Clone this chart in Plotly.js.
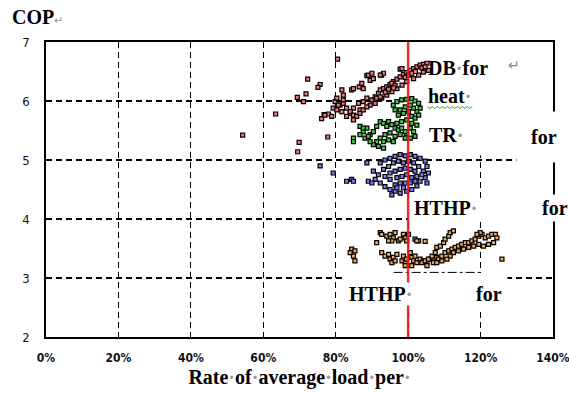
<!DOCTYPE html>
<html><head><meta charset="utf-8">
<script src="https://cdn.plot.ly/plotly-3.0.1.min.js"></script>
<style>html,body{margin:0;padding:0;background:#fff}</style>
</head><body><div id="chart" style="width:569px;height:403px"></div>
<script>
// ---- data (x = rate of average load per rated, y = COP) ----
const redX = [0.805,0.7225,0.757,0.751,0.718,0.694,0.711,0.634,0.543,0.699,0.695,0.778,0.761,0.768,0.780,0.798,0.803,0.817,0.821,0.793,0.803,0.812,0.821,0.817,0.789,0.770,0.844,0.849,0.865,0.876,0.872,0.886,0.895,0.904,0.927,0.932,0.978,0.983,0.863,0.876,0.886,0.900,0.909,0.918,0.923,0.932,0.941,0.950,0.959,0.969,0.978,0.987,0.996,1.006,1.015,1.024,1.033,1.042,1.052,0.849,0.867,0.840,0.853,0.830,0.895,0.909,0.927,0.941,0.955,0.969,0.983,0.996,1.015,1.029,1.042,1.056,0.890,0.900,0.923,0.821,0.807,0.830,0.840,0.849,0.858,0.867,0.876,0.886,0.849,0.913,0.923,0.955,0.964,0.992,1.001,1.010,1.020,1.038,1.047,0.937,0.946,0.960];
const redY = [6.71,6.37,6.28,6.23,6.12,6.06,5.99,5.78,5.42,5.30,5.14,5.39,5.70,5.77,5.78,5.99,6.05,6.19,6.10,5.88,5.85,5.93,5.96,5.82,5.74,5.76,6.19,6.21,6.24,6.21,6.30,6.43,6.35,6.38,6.44,6.47,6.54,6.55,5.96,5.99,6.05,6.02,6.07,6.13,6.19,6.21,6.24,6.28,6.33,6.37,6.41,6.45,6.48,6.52,6.55,6.58,6.61,6.62,6.64,5.88,5.85,5.79,5.74,5.74,5.93,5.96,6.05,6.10,6.16,6.21,6.27,6.33,6.38,6.44,6.49,6.52,6.44,6.47,6.44,6.02,5.93,5.88,5.82,5.76,5.74,5.79,5.85,5.90,5.68,6.05,6.07,6.30,6.26,6.40,6.44,6.47,6.50,6.56,6.58,6.15,6.20,6.22];

const greenX = [0.959,0.969,0.982,0.996,1.010,1.019,1.029,1.033,1.024,1.015,1.006,0.992,0.978,0.964,0.973,0.987,1.001,1.010,1.019,1.029,0.996,0.982,1.010,1.024,1.006,1.015,0.996,0.992,1.006,1.019,0.867,0.876,0.886,0.895,0.904,0.913,0.923,0.932,0.941,0.946,0.955,0.964,0.973,0.982,0.992,0.978,0.964,0.950,0.936,0.923,0.913,0.932,0.946,0.959,0.904,0.918,0.932,0.895,0.881,0.890,0.969,0.849,0.867,0.849,0.876];
const greenY = [5.93,5.99,6.02,6.03,6.04,6.00,5.96,5.88,5.82,5.88,5.93,5.90,5.85,5.85,5.76,5.79,5.82,5.74,5.71,5.76,5.68,5.65,5.62,5.59,5.54,5.48,5.45,5.37,5.37,5.40,5.57,5.48,5.54,5.43,5.48,5.57,5.65,5.62,5.57,5.65,5.60,5.54,5.51,5.54,5.48,5.43,5.40,5.46,5.43,5.37,5.31,5.31,5.34,5.31,5.26,5.23,5.20,5.31,5.37,5.40,5.62,5.37,5.43,5.31,5.54];

const blueX = [0.923,0.936,0.950,0.964,0.978,0.992,1.006,1.019,1.033,1.047,1.052,1.042,1.056,1.047,1.033,1.052,1.024,1.010,0.996,0.978,0.964,0.950,0.936,0.923,0.909,0.918,0.904,0.932,0.946,0.959,0.973,0.987,1.001,1.015,1.029,1.019,1.006,0.992,0.978,0.964,0.950,0.936,0.950,0.969,0.983,0.996,1.010,1.024,1.038,0.978,0.992,0.964,1.006,1.019,0.987,0.969,0.955,0.757,0.793,0.830,0.844,0.849,0.886,0.890,0.900];
const blueY = [4.95,5.00,5.03,5.06,5.09,5.07,5.09,5.06,5.03,4.98,4.89,4.81,4.78,4.70,4.64,4.61,4.56,4.50,4.47,4.44,4.47,4.50,4.55,4.61,4.67,4.75,4.81,4.84,4.89,4.95,4.98,4.95,4.98,4.95,4.89,4.81,4.84,4.86,4.84,4.81,4.78,4.72,4.67,4.70,4.72,4.75,4.70,4.72,4.75,4.61,4.61,4.58,4.61,4.64,4.53,4.53,4.41,4.90,4.78,4.64,4.67,4.64,4.95,4.64,4.61];

const orangeX = [0.844,0.853,0.840,0.849,0.853,0.923,0.927,0.941,0.950,0.959,0.964,0.955,0.973,0.978,0.987,0.992,1.001,0.996,0.913,0.946,0.927,0.936,0.946,0.950,0.955,0.959,0.969,0.964,0.983,0.987,0.992,0.996,1.019,1.029,1.024,1.006,1.010,1.015,1.024,1.033,1.042,1.052,1.061,1.070,1.079,1.088,1.019,1.047,1.038,1.047,1.056,1.066,1.075,1.079,1.089,1.098,1.102,1.112,1.116,1.125,1.070,1.084,1.093,1.102,1.112,1.121,1.130,1.139,1.148,1.158,1.167,1.176,1.185,1.195,1.204,1.213,1.222,1.231,1.241,1.245,1.236,1.222,1.208,1.195,1.181,1.167,1.153,1.139,1.125,1.116,1.107,1.093,1.079,1.052,1.199,1.190,1.259,0.992,1.010];
const orangeY = [3.49,3.46,3.43,3.37,3.29,3.77,3.74,3.71,3.74,3.68,3.77,3.63,3.63,3.66,3.74,3.68,3.74,3.63,3.60,3.63,3.43,3.37,3.40,3.32,3.26,3.35,3.40,3.29,3.29,3.37,3.26,3.32,3.66,3.63,3.63,3.43,3.35,3.29,3.26,3.32,3.29,3.26,3.32,3.29,3.35,3.32,3.37,3.62,3.26,3.29,3.32,3.37,3.43,3.52,3.54,3.60,3.66,3.71,3.77,3.80,3.26,3.32,3.37,3.43,3.46,3.49,3.52,3.54,3.57,3.60,3.60,3.63,3.66,3.71,3.74,3.68,3.71,3.74,3.74,3.68,3.60,3.57,3.54,3.57,3.54,3.52,3.49,3.46,3.43,3.37,3.32,3.29,3.26,3.21,3.77,3.74,3.32,3.21,3.21];

const xTickVals = [0,0.2,0.4,0.6,0.8,1.0,1.2,1.4];
const xTickText = ['0%','20%','40%','60%','80%','100%','120%','140%'];
const yTickVals = [2,3,4,5,6,7];
const referenceLoad = [1.0];

// ---- drawing ----
const serif = 'Liberation Serif, Times New Roman, serif';
const narrow = 'Liberation Sans Narrow, Arial Narrow, DejaVu Sans Condensed, sans-serif';
const dot = '<span style="color:#9a9a9a">·</span>';

function series(x, y, color) {
  return {type:'scatter', mode:'markers', x:x, y:y, showlegend:false, hoverinfo:'skip',
    marker:{symbol:'square', size:4, color:color, line:{color:'#000', width:1.2}}};
}
const traces = [
  series(blueX, blueY, '#7c7cf0'),
  series(greenX, greenY, '#3fd23f'),
  series(redX, redY, '#f27a7a'),
  series(orangeX, orangeY, '#f5a85a')
];

// spell-check squiggle under "heat"
let sq = 'M 1.053 5.90';
for (let i = 1, xx = 1.053; xx < 1.177; i++) { xx = 1.053 + i*0.0069; sq += ' L ' + xx.toFixed(4) + ' ' + (i%2 ? 5.875 : 5.905); }

const shapes = [
  {type:'rect', xref:'x', yref:'y', x0:1.0, x1:1.4, y0:5.08, y1:7, fillcolor:'#fff', line:{width:0}, layer:'between'},
  {type:'rect', xref:'x', yref:'y', x0:1.0, x1:1.4, y0:3.985, y1:4.35, fillcolor:'#fff', line:{width:0}, layer:'between'},
  {type:'rect', xref:'x', yref:'y', x0:0.818, x1:1.274, y0:2.475, y1:3.083, fillcolor:'#fff', line:{width:0}, layer:'between'},
  {type:'line', xref:'x', yref:'y', x0:0.96, x1:1.2, y0:3.095, y1:3.095, line:{color:'#000', width:1, dash:'dashdot'}, layer:'above'},
  {type:'line', xref:'x', yref:'y', x0:referenceLoad[0], x1:referenceLoad[0], y0:2, y1:7, line:{color:'rgba(235,25,25,0.9)', width:2.5}, layer:'above'},
  {type:'path', xref:'x', yref:'y', path:sq, line:{color:'#33aa33', width:1}, layer:'above'}
];

function lab(text, x, y, extra) {
  return Object.assign({xref:'x', yref:'y', x:x, y:y, xanchor:'left', yanchor:'middle', showarrow:false,
    text:text, font:{family:serif, size:20, color:'#000', weight:'bold'}, borderpad:0}, extra||{});
}
const annotations = [
  {xref:'paper', yref:'paper', x:-0.071, y:1.085, xanchor:'left', yanchor:'middle', showarrow:false,
   text:'COP<span style="color:#999;font-size:11px;font-weight:normal">↵</span>', font:{family:serif, size:20, color:'#000', weight:'bold'}},
  lab('DB' + dot + 'for', 1.053, 6.56),
  lab('↵', 1.274, 6.60, {font:{family:serif, size:14, color:'#8a8a8a'}}),
  lab('heat' + dot, 1.053, 6.08),
  lab('TR' + dot, 1.055, 5.42),
  lab('for', 1.298, 5.39, {bgcolor:'#fff', borderpad:14}),
  lab('HTHP' + dot, 1.014, 4.19),
  lab('for', 1.362, 4.19, {bgcolor:'#fff', borderpad:2}),
  lab('HTHP' + dot, 0.834, 2.73, {bgcolor:'#fff'}),
  lab('for', 1.185, 2.73)
];

const layout = {
  width:569, height:403,
  margin:{l:46, r:16, t:42, b:66},
  paper_bgcolor:'#fff', plot_bgcolor:'#fff',
  showlegend:false,
  xaxis:{range:[0,1.4], tickvals:xTickVals, ticktext:xTickText, showgrid:true, gridcolor:'#000', gridwidth:1.2, griddash:'6px,4px',
    zeroline:false, showline:true, mirror:true, linecolor:'#000', linewidth:1.6, ticks:'', ticklabelstandoff:9,
    ticklabeloverflow:'allow',
    tickfont:{family:narrow, size:12, color:'#111', weight:'bold'},
    title:{text:'Rate' + dot + 'of' + dot + 'average' + dot + 'load' + dot + 'per' + dot, font:{family:serif, size:20, color:'#000', weight:'bold'}, standoff:6},
    fixedrange:true},
  yaxis:{range:[2,7], tickvals:yTickVals, showgrid:true, gridcolor:'#000', gridwidth:1.2, griddash:'6px,4px',
    zeroline:false, showline:true, mirror:true, linecolor:'#000', linewidth:1.6, ticks:'', ticklabelstandoff:12,
    tickfont:{family:narrow, size:13, color:'#111'}, fixedrange:true},
  shapes:shapes,
  annotations:annotations
};
Plotly.newPlot('chart', traces, layout, {staticPlot:true, displayModeBar:false});
</script></body></html>
